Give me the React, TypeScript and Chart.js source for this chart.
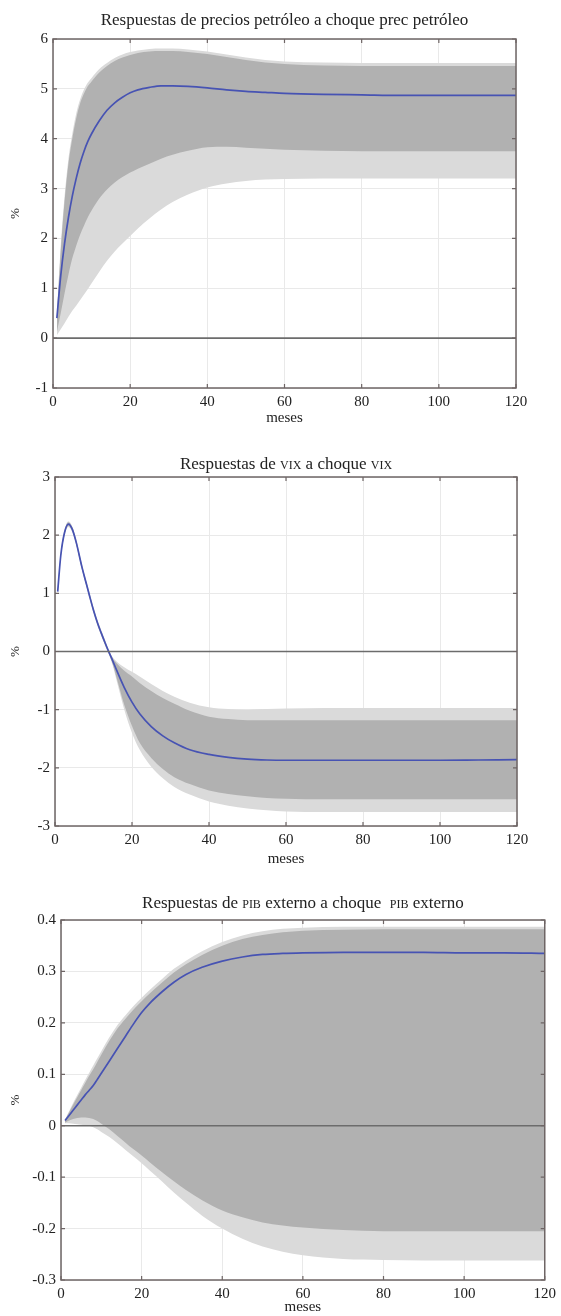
import React, { useEffect, useRef } from 'react';
import { Chart, registerables } from 'chart.js';

Chart.register(...registerables);

// ---------- Data: oil price response to oil price shock ----------
const months1 = [1, 2, 3, 4, 5, 6, 7, 8, 9, 10, 12, 14, 16, 18, 20, 22, 25, 28, 31, 35, 40, 45, 50, 55, 60, 70, 80, 90, 100, 110, 120];
const median1 = [0.4, 1.25, 1.9, 2.42, 2.85, 3.2, 3.5, 3.74, 3.94, 4.1, 4.36, 4.57, 4.72, 4.83, 4.92, 4.98, 5.03, 5.06, 5.06, 5.05, 5.02, 4.98, 4.95, 4.93, 4.91, 4.89, 4.88, 4.87, 4.87, 4.87, 4.87];
const innerUp1 = [0.45, 1.75, 2.75, 3.5, 4.0, 4.4, 4.7, 4.9, 5.05, 5.15, 5.33, 5.46, 5.56, 5.63, 5.68, 5.72, 5.75, 5.76, 5.76, 5.74, 5.7, 5.64, 5.58, 5.53, 5.5, 5.47, 5.46, 5.46, 5.46, 5.46, 5.46];
const outerUp1 = [0.5, 1.85, 2.85, 3.6, 4.1, 4.5, 4.78, 4.98, 5.12, 5.22, 5.4, 5.52, 5.62, 5.69, 5.74, 5.77, 5.8, 5.81, 5.81, 5.79, 5.75, 5.69, 5.63, 5.58, 5.55, 5.53, 5.52, 5.52, 5.52, 5.52, 5.52];
const innerLo1 = [0.12, 0.5, 0.9, 1.27, 1.6, 1.85, 2.07, 2.25, 2.42, 2.56, 2.8, 2.98, 3.12, 3.23, 3.32, 3.4, 3.5, 3.6, 3.68, 3.76, 3.83, 3.84, 3.82, 3.8, 3.78, 3.76, 3.75, 3.75, 3.75, 3.75, 3.75];
const outerLo1 = [0.06, 0.18, 0.3, 0.43, 0.55, 0.65, 0.76, 0.87, 0.98, 1.1, 1.33, 1.55, 1.74, 1.9, 2.05, 2.2, 2.4, 2.58, 2.73, 2.88, 3.02, 3.1, 3.15, 3.18, 3.19, 3.2, 3.2, 3.2, 3.2, 3.2, 3.2];

// ---------- Data: VIX response to VIX shock ----------
const months2 = [0.7, 1.5, 2.5, 3.5, 4.5, 5.5, 7, 8, 9, 10, 11, 12, 13, 14, 15, 16, 18, 20, 22, 25, 28, 31, 35, 40, 45, 50, 55, 60, 70, 80, 90, 100, 110, 120];
const median2 = [1.03, 1.65, 2.05, 2.19, 2.1, 1.88, 1.45, 1.2, 0.95, 0.71, 0.5, 0.32, 0.15, -0.01, -0.16, -0.32, -0.62, -0.87, -1.07, -1.29, -1.45, -1.57, -1.69, -1.77, -1.82, -1.85, -1.865, -1.87, -1.87, -1.87, -1.87, -1.87, -1.865, -1.86];
const innerUp2 = [1.06, 1.68, 2.08, 2.22, 2.13, 1.91, 1.48, 1.23, 0.98, 0.74, 0.53, 0.35, 0.18, 0.01, -0.12, -0.2, -0.33, -0.43, -0.54, -0.68, -0.8, -0.9, -1.02, -1.12, -1.16, -1.18, -1.18, -1.18, -1.18, -1.18, -1.18, -1.18, -1.18, -1.18];
const outerUp2 = [1.08, 1.7, 2.1, 2.24, 2.15, 1.93, 1.5, 1.25, 1.0, 0.76, 0.55, 0.37, 0.2, 0.02, -0.1, -0.17, -0.27, -0.35, -0.43, -0.56, -0.68, -0.78, -0.88, -0.96, -0.99, -1.0, -0.99, -0.98, -0.97, -0.97, -0.97, -0.97, -0.97, -0.97];
const innerLo2 = [1.0, 1.62, 2.02, 2.16, 2.07, 1.85, 1.42, 1.17, 0.92, 0.68, 0.47, 0.29, 0.12, -0.04, -0.22, -0.45, -0.92, -1.28, -1.57, -1.83, -2.02, -2.16, -2.28, -2.39, -2.45, -2.49, -2.52, -2.53, -2.54, -2.54, -2.54, -2.54, -2.54, -2.54];
const outerLo2 = [0.98, 1.6, 2.0, 2.14, 2.05, 1.83, 1.4, 1.15, 0.9, 0.66, 0.45, 0.27, 0.1, -0.05, -0.24, -0.5, -1.0, -1.4, -1.69, -1.98, -2.18, -2.33, -2.46, -2.58, -2.65, -2.7, -2.73, -2.75, -2.76, -2.76, -2.76, -2.76, -2.76, -2.76];

// ---------- Data: external GDP response to external GDP shock ----------
const months3 = [1, 2, 3, 4, 5, 6, 7, 8, 9, 10, 12, 14, 16, 18, 20, 22, 25, 28, 31, 35, 40, 45, 50, 55, 60, 70, 80, 90, 100, 110, 120];
const median3 = [0.01, 0.02, 0.03, 0.04, 0.05, 0.06, 0.069, 0.078, 0.09, 0.102, 0.126, 0.15, 0.174, 0.198, 0.22, 0.238, 0.26, 0.279, 0.294, 0.308, 0.32, 0.328, 0.333, 0.335, 0.336, 0.337, 0.337, 0.337, 0.336, 0.336, 0.335];
const outerUp3 = [0.012, 0.028, 0.044, 0.059, 0.074, 0.089, 0.103, 0.117, 0.131, 0.145, 0.172, 0.196, 0.215, 0.233, 0.249, 0.264, 0.285, 0.305, 0.321, 0.339, 0.357, 0.37, 0.378, 0.383, 0.385, 0.387, 0.387, 0.387, 0.387, 0.387, 0.387];
const innerUp3 = [0.011, 0.026, 0.041, 0.055, 0.069, 0.083, 0.097, 0.11, 0.124, 0.138, 0.165, 0.189, 0.208, 0.226, 0.242, 0.257, 0.278, 0.298, 0.314, 0.332, 0.35, 0.363, 0.371, 0.376, 0.379, 0.381, 0.382, 0.382, 0.382, 0.382, 0.382];
const innerLo3 = [0.006, 0.01, 0.013, 0.015, 0.016, 0.016, 0.015, 0.013, 0.009, 0.004, -0.007, -0.02, -0.033, -0.046, -0.058, -0.071, -0.09, -0.108, -0.125, -0.145, -0.165, -0.178, -0.188, -0.194, -0.198, -0.203, -0.205, -0.205, -0.205, -0.205, -0.205];
const outerLo3 = [0.005, 0.005, 0.004, 0.003, 0.002, 0.001, 0.0, -0.003, -0.007, -0.012, -0.022, -0.034, -0.047, -0.06, -0.073, -0.087, -0.108, -0.13, -0.15, -0.175, -0.2, -0.22, -0.235, -0.245, -0.252, -0.259, -0.261, -0.262, -0.262, -0.262, -0.262];

const xTicks = [0, 20, 40, 60, 80, 100, 120];

type Seg = { text: string; small?: boolean };

const title1: Seg[] = [{ text: 'Respuestas de precios petróleo a choque prec petróleo' }];
const title2: Seg[] = [
  { text: 'Respuestas de ' }, { text: 'VIX', small: true }, { text: ' a choque ' }, { text: 'VIX', small: true },
];
const title3: Seg[] = [
  { text: 'Respuestas de ' }, { text: 'PIB', small: true }, { text: ' externo a choque  ' }, { text: 'PIB', small: true }, { text: ' externo' },
];

const SERIF = "'Liberation Serif', 'DejaVu Serif', serif";
const TEXT = '#222222';
const INNER = '#b1b1b1';
const OUTER = '#dadada';
const BLUE = '#4753b3';
const FRAME = '#6e6565';

interface Panel {
  top: number;
  plotL: number;
  plotR: number;
  plotT: number;
  plotB: number;
  titleY: number;
  mesesY: number;
  title: Seg[];
  yMin: number;
  yMax: number;
  yStep: number;
  months: number[];
  median: number[];
  innerUp: number[];
  innerLo: number[];
  outerUp: number[];
  outerLo: number[];
}

const panels: Panel[] = [
  {
    top: 0, plotL: 53, plotR: 516, plotT: 39, plotB: 388, titleY: 20, mesesY: 418, title: title1,
    yMin: -1, yMax: 6, yStep: 1,
    months: months1, median: median1, innerUp: innerUp1, innerLo: innerLo1, outerUp: outerUp1, outerLo: outerLo1,
  },
  {
    top: 440, plotL: 55, plotR: 517, plotT: 477, plotB: 826, titleY: 464, mesesY: 859, title: title2,
    yMin: -3, yMax: 3, yStep: 1,
    months: months2, median: median2, innerUp: innerUp2, innerLo: innerLo2, outerUp: outerUp2, outerLo: outerLo2,
  },
  {
    top: 880, plotL: 61, plotR: 553, plotT: 920, plotB: 1280, titleY: 903, mesesY: 1307, title: title3,
    yMin: -0.3, yMax: 0.4, yStep: 0.1,
    months: months3, median: median3, innerUp: innerUp3, innerLo: innerLo3, outerUp: outerUp3, outerLo: outerLo3,
  },
];

const W = 561;

function pts(xs: number[], ys: number[]) {
  return xs.map((x, i) => ({ x, y: ys[i] }));
}

const framePlugin = {
  id: 'frameAndZero',
  afterDatasetsDraw(chart: any) {
    const { ctx, chartArea: a, scales } = chart;
    const y0 = scales.y.getPixelForValue(0);
    ctx.save();
    ctx.strokeStyle = '#6c6c6c';
    ctx.lineWidth = 1.6;
    ctx.beginPath();
    ctx.moveTo(a.left, y0);
    ctx.lineTo(a.right, y0);
    ctx.stroke();

    ctx.strokeStyle = FRAME;
    ctx.lineWidth = 1.5;
    ctx.strokeRect(a.left, a.top, a.right - a.left, a.bottom - a.top);

    const tl = 4;
    ctx.lineWidth = 1.2;
    ctx.beginPath();
    scales.x.ticks.forEach((t: any) => {
      const x = scales.x.getPixelForValue(t.value);
      ctx.moveTo(x, a.top);
      ctx.lineTo(x, a.top + tl);
      ctx.moveTo(x, a.bottom);
      ctx.lineTo(x, a.bottom - tl);
    });
    scales.y.ticks.forEach((t: any) => {
      const y = scales.y.getPixelForValue(t.value);
      ctx.moveTo(a.left, y);
      ctx.lineTo(a.left + tl, y);
      ctx.moveTo(a.right, y);
      ctx.lineTo(a.right - tl, y);
    });
    ctx.stroke();
    ctx.restore();
  },
};

function makeTitlePlugin(segs: Seg[], y: number) {
  return {
    id: 'segTitle',
    afterDraw(chart: any) {
      const { ctx, chartArea: a } = chart;
      ctx.save();
      const fontFor = (s: Seg) => (s.small ? `12px ${SERIF}` : `17px ${SERIF}`);
      let total = 0;
      segs.forEach((s) => {
        ctx.font = fontFor(s);
        total += ctx.measureText(s.text).width;
      });
      let x = (a.left + a.right) / 2 - total / 2;
      ctx.fillStyle = TEXT;
      ctx.textBaseline = 'alphabetic';
      segs.forEach((s) => {
        ctx.font = fontFor(s);
        ctx.fillText(s.text, x, y + 5);
        x += ctx.measureText(s.text).width;
      });
      ctx.restore();
    },
  };
}

function PanelChart({ p }: { p: Panel }) {
  const ref = useRef<HTMLCanvasElement | null>(null);
  const H = Math.round(p.mesesY + 9 - p.top);

  useEffect(() => {
    if (!ref.current) return;
    const tickFont = { family: SERIF, size: 15 };
    const lineCommon = { pointRadius: 0, cubicInterpolationMode: 'monotone' };
    const chart = new Chart(ref.current, {
      type: 'line',
      data: {
        datasets: [
          { data: pts(p.months, p.outerLo), borderWidth: 0, fill: false, order: 4, ...lineCommon },
          { data: pts(p.months, p.outerUp), borderWidth: 0, fill: '-1', backgroundColor: OUTER, order: 3, ...lineCommon },
          { data: pts(p.months, p.innerLo), borderWidth: 0, fill: false, order: 2, ...lineCommon },
          { data: pts(p.months, p.innerUp), borderWidth: 0, fill: '-1', backgroundColor: INNER, order: 1, ...lineCommon },
          { data: pts(p.months, p.median), borderColor: BLUE, borderWidth: 1.7, fill: false, order: 0, ...lineCommon },
        ],
      },
      options: {
        animation: false,
        responsive: false,
        maintainAspectRatio: false,
        devicePixelRatio: 1,
        layout: { padding: { left: 0, right: W - p.plotR, top: p.plotT - p.top, bottom: 0 } },
        plugins: { legend: { display: false }, tooltip: { enabled: false }, title: { display: false } },
        scales: {
          x: {
            type: 'linear',
            min: 0,
            max: 120,
            afterBuildTicks: (s: any) => {
              s.ticks = xTicks.map((v) => ({ value: v }));
            },
            ticks: { font: tickFont, color: TEXT, padding: 5, maxRotation: 0, autoSkip: false },
            grid: { color: '#e9e9e9', lineWidth: 1, drawTicks: false },
            border: { display: false },
            title: { display: true, text: 'meses', font: tickFont, color: TEXT, padding: 0 },
            afterFit: (s: any) => {
              s.height = p.top + H - p.plotB;
            },
          },
          y: {
            type: 'linear',
            min: p.yMin,
            max: p.yMax,
            ticks: {
              stepSize: p.yStep,
              font: tickFont,
              color: TEXT,
              padding: 5,
              callback: (v: any) => String(Math.round(Number(v) * 10) / 10),
            },
            grid: { color: '#e9e9e9', lineWidth: 1, drawTicks: false },
            border: { display: false },
            title: { display: true, text: '%', font: { family: SERIF, size: 13 }, color: TEXT, padding: { top: 8, bottom: 0 } },
            afterFit: (s: any) => {
              s.width = p.plotL;
            },
          },
        },
      } as any,
      plugins: [framePlugin, makeTitlePlugin(p.title, p.titleY - p.top)],
    });
    return () => chart.destroy();
  }, []);

  return (
    <canvas
      ref={ref}
      width={W}
      height={H}
      style={{ position: 'absolute', left: 0, top: p.top, width: W, height: H }}
    />
  );
}

export default function App() {
  return (
    <div style={{ position: 'absolute', left: 0, top: 0, width: W, height: 1316, background: '#ffffff', overflow: 'hidden' }}>
      {panels.map((p, i) => (
        <PanelChart key={i} p={p} />
      ))}
    </div>
  );
}
